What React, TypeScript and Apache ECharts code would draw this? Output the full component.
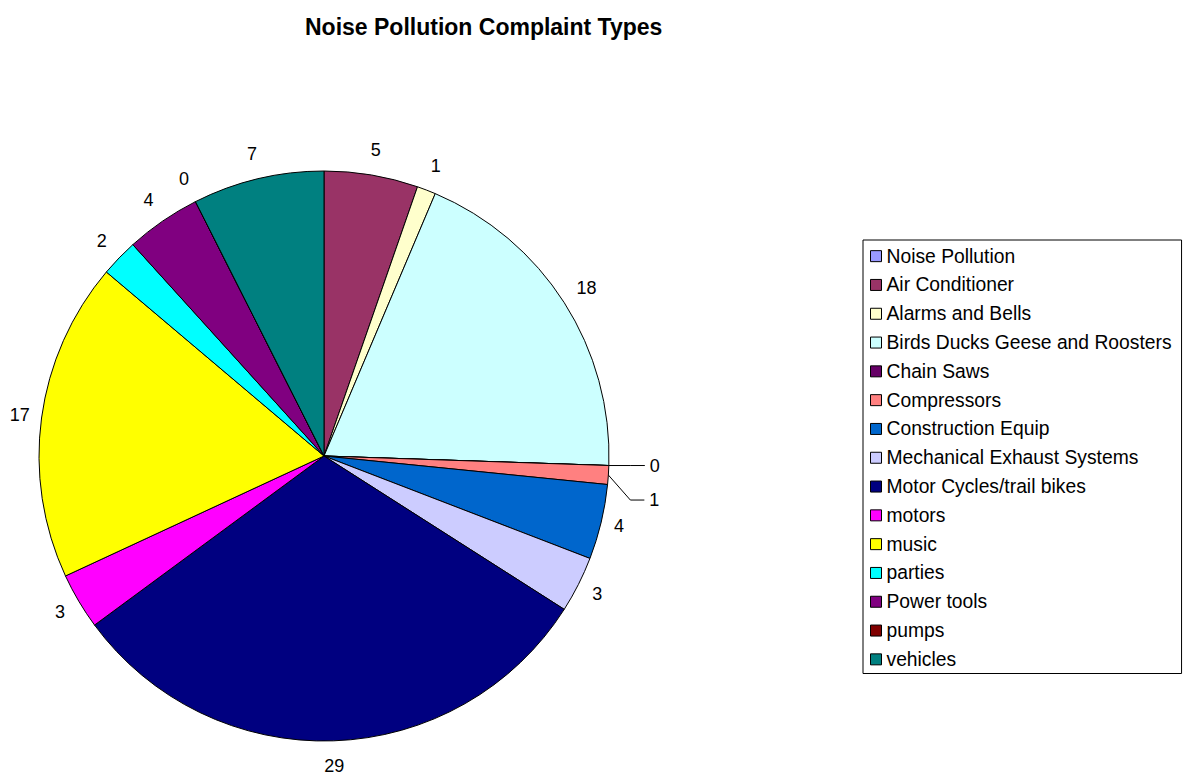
import React, { useEffect, useRef } from "react";
import * as echarts from "echarts";

// Complaint categories, in the order they are drawn (clockwise from 12 o'clock)
const categories: string[] = [
  "Noise Pollution",
  "Air Conditioner",
  "Alarms and Bells",
  "Birds Ducks Geese and Roosters",
  "Chain Saws",
  "Compressors",
  "Construction Equip",
  "Mechanical Exhaust Systems",
  "Motor Cycles/trail bikes",
  "motors",
  "music",
  "parties",
  "Power tools",
  "pumps",
  "vehicles",
];

// Number of complaints per category (null = no entry recorded)
const complaintCounts: (number | null)[] = [null, 5, 1, 18, 0, 1, 4, 3, 29, 3, 17, 2, 4, 0, 7];

const sliceColors: string[] = [
  "#9999FF",
  "#993366",
  "#FFFFCC",
  "#CCFFFF",
  "#660066",
  "#FF8080",
  "#0066CC",
  "#CCCCFF",
  "#000080",
  "#FF00FF",
  "#FFFF00",
  "#00FFFF",
  "#800080",
  "#800000",
  "#008080",
];

// Pie geometry (pixels)
const CX = 324;
const CY = 456;
const R = 285;
const LABEL_GAP = 10;
const LABEL_GAP_V = 6;
const FONT = 'Arial, "Liberation Sans", sans-serif';

// Labels pulled aside with a leader line: vertical drop of the label from the slice edge
const leaderDrop: Record<string, number> = { "Chain Saws": 0, Compressors: 25 };

const total = complaintCounts.reduce<number>((s, v) => s + (v ?? 0), 0);
const midAngles: number[] = [];
{
  let acc = 0;
  complaintCounts.forEach((v) => {
    const val = v ?? 0;
    midAngles.push(((acc + val / 2) / total) * 2 * Math.PI);
    acc += val;
  });
}

export default function App() {
  const ref = useRef<HTMLDivElement>(null);

  useEffect(() => {
    if (!ref.current) return;
    const chart = echarts.init(ref.current, undefined, { renderer: "svg" });

    const data = categories.map((name, i) => {
      const v = complaintCounts[i];
      const hasLeader = name in leaderDrop;
      return {
        name,
        value: v,
        itemStyle: { color: sliceColors[i] },
        label: { show: v != null },
        labelLine: {
          show: hasLeader,
          smooth: false,
          lineStyle: { color: "#000", width: 1 },
        },
      };
    });

    chart.setOption({
      animation: false,
      backgroundColor: "#fff",
      title: {
        text: "Noise Pollution Complaint Types",
        left: 305,
        top: 15.5,
        padding: 0,
        textStyle: { fontFamily: FONT, fontSize: 23, fontWeight: "bold", color: "#000" },
      },
      legend: {
        orient: "vertical",
        left: 863,
        top: 240,
        padding: [6.5, 10, 4.5, 7],
        borderColor: "#000",
        borderWidth: 1,
        itemWidth: 11,
        itemHeight: 11,
        itemGap: 9.5,
        icon: "rect",
        selectedMode: false,
        itemStyle: { borderColor: "#000", borderWidth: 1 },
        textStyle: { fontFamily: FONT, fontSize: 19.3, lineHeight: 19.3, color: "#000" },
        data: categories,
      },
      series: [
        {
          type: "pie",
          center: [CX, CY],
          radius: R,
          startAngle: 90,
          clockwise: true,
          avoidLabelOverlap: false,
          emphasis: { disabled: true },
          itemStyle: { borderColor: "#000", borderWidth: 1 },
          label: {
            position: "outside",
            formatter: "{c}",
            fontFamily: FONT,
            fontSize: 18,
            color: "#000",
          },
          labelLine: { length: 10, length2: 10 },
          labelLayout: (params: any) => {
            const i = params.dataIndex;
            if (complaintCounts[i] == null) return {};
            const a = midAngles[i];
            const s = Math.sin(a);
            const c = Math.cos(a);
            const name = categories[i];
            if (name in leaderDrop) {
              const ax = CX + R * s;
              const ay = CY - R * c;
              const ex = ax + 22;
              const ey = ay + leaderDrop[name];
              const fx = ex + 14;
              return {
                x: fx + 5,
                y: ey,
                align: "left",
                verticalAlign: "middle",
                labelLinePoints: [
                  [ax, ay],
                  [ex, ey],
                  [fx, ey],
                ],
              };
            }
            const w = params.labelRect.width;
            const h = params.labelRect.height;
            const r =
              R + LABEL_GAP + (Math.abs(s) * w) / 2 + Math.abs(c) * (h / 2 + LABEL_GAP_V);
            return {
              x: CX + r * s,
              y: CY - r * c,
              align: "center",
              verticalAlign: "middle",
            };
          },
          data,
        },
      ],
    });

    return () => chart.dispose();
  }, []);

  return (
    <div
      ref={ref}
      style={{ position: "absolute", left: 0, top: 0, width: 1185, height: 773, background: "#fff" }}
    />
  );
}
